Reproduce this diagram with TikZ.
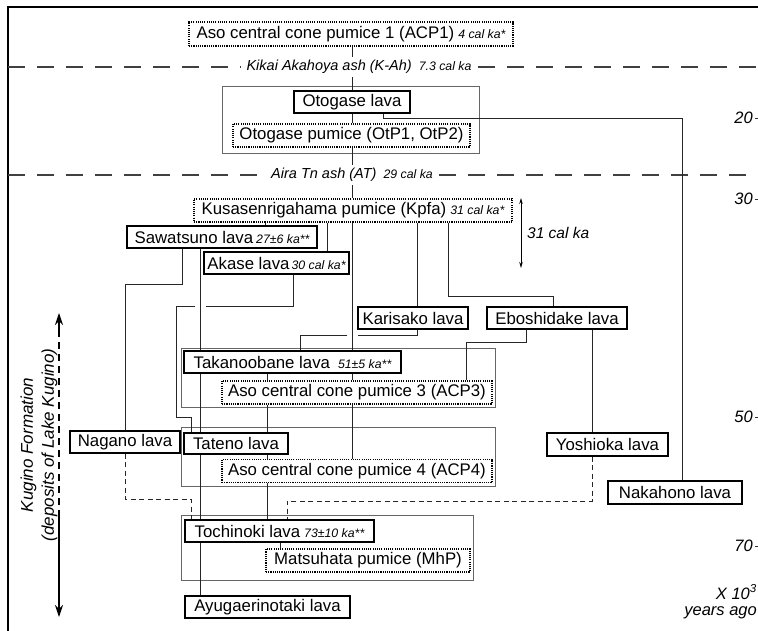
\documentclass[tikz,border=0pt]{standalone}
\usepackage{fontspec}
\setmainfont{Liberation Sans}
\usetikzlibrary{arrows.meta}
\newcommand\mainsz{\fontsize{16.8}{20}\selectfont}
\newcommand\ann[1]{{\fontsize{12.3}{14}\selectfont\itshape #1}}
\tikzset{
  lava/.style={draw=black, line width=1.4pt, fill=white, inner sep=0pt, minimum height=22pt, font=\mainsz},
  pum/.style={draw=black, line width=1.1pt, dash pattern=on 1.1pt off 1.1pt, fill=white, inner sep=0pt, minimum height=23pt, font=\mainsz},
  grp/.style={draw=black!60, line width=0.8pt},
  conn/.style={draw=black!85, line width=0.9pt},
  dconn/.style={conn, dash pattern=on 5pt off 3.5pt},
  ashl/.style={draw=black!75, line width=1.3pt, dash pattern=on 17pt off 12pt},
  ashlab/.style={font=\fontsize{14.5}{17}\selectfont\itshape, inner xsep=6pt, inner ysep=3pt},
  axlab/.style={font=\fontsize{16.5}{20}\selectfont\itshape, inner sep=0pt},
  tick/.style={draw=black!80, line width=0.8pt}
}
\begin{document}
\begin{tikzpicture}[x=1pt,y=-1pt]
\useasboundingbox (0,0) rectangle (758,631);
% frame
\draw[line width=1.5pt] (8,640) -- (8,7) -- (765,7);
% group rectangles
\draw[grp] (222,86) rectangle (479,153);
\draw[grp] (181,348) rectangle (495,407);
\draw[grp] (181,427) rectangle (495,486);
\draw[grp] (181,515) rectangle (473,580);
% column coordinates
\coordinate (xA) at (125,0);
\coordinate (xD) at (200,0);
\coordinate (xE) at (182,0);
\coordinate (xF) at (265,0);
\coordinate (xG) at (267,0);
\coordinate (xH) at (280,0);
\coordinate (xJ) at (293,0);
\coordinate (xL) at (327,0);
\coordinate (xM) at (352,0);
\coordinate (xN) at (383,0);
\coordinate (xO) at (417,0);
\coordinate (xP) at (448,0);
\coordinate (xR) at (526,0);
\coordinate (xT) at (592,0);
\coordinate (fl) at (8,0);
\coordinate (fr) at (765,0);
% nodes
\node[pum, minimum width=324pt, minimum height=24pt] (acp1) at (351,34) {Aso central cone pumice 1 (ACP1)\hspace{4pt}\ann{4 cal ka*}};
\node[ashlab] (kah) at (359,67) {Kikai Akahoya ash (K-Ah)\hspace{7pt}\ann{7.3 cal ka}};
\node[lava, minimum width=116pt] (otl) at (352,102) {Otogase lava};
\node[pum, minimum width=237pt] (otp) at (351.5,135.5) {Otogase pumice (OtP1, OtP2)};
\node[ashlab] (at) at (352,175) {Aira Tn ash (AT)\hspace{7pt}\ann{29 cal ka}};
\node[pum, minimum width=318pt] (kpfa) at (353,210.5) {Kusasenrigahama pumice (Kpfa)\hspace{4pt}\ann{31 cal ka*}};
\node[lava, minimum width=190pt] (saw) at (222,237) {Sawatsuno lava\hspace{3pt}\ann{27±6 ka**}};
\node[lava, minimum width=145pt] (aka) at (276.5,263) {Akase lava\hspace{2pt}\ann{30 cal ka*}};
\node[lava, minimum width=110pt] (kar) at (413,318) {Karisako lava};
\node[lava, minimum width=140pt] (ebo) at (557,318) {Eboshidake lava};
\node[lava, minimum width=217pt] (tak) at (292.5,362) {Takanoobane lava\hspace{8pt}\ann{51±5 ka**}};
\node[pum, minimum width=270pt] (acp3) at (357,392.5) {Aso central cone pumice 3 (ACP3)};
\node[lava, minimum width=110pt] (nag) at (125,442) {Nagano lava};
\node[lava, minimum width=104pt, minimum height=21pt] (tat) at (236,443.5) {Tateno lava};
\node[pum, minimum width=270pt] (acp4) at (357,471) {Aso central cone pumice 4 (ACP4)};
\node[lava, minimum width=121pt, minimum height=23pt] (yos) at (607.5,444.5) {Yoshioka lava};
\node[lava, minimum width=134pt, minimum height=23pt] (nak) at (675,492.5) {Nakahono lava};
\node[lava, minimum width=189pt] (toc) at (279.5,531) {Tochinoki lava\hspace{4pt}\ann{73±10 ka**}};
\node[pum, minimum width=204pt] (mat) at (368,560.5) {Matsuhata pumice (MhP)};
\node[lava, minimum width=165pt] (ayu) at (267.5,607) {Ayugaerinotaki lava};
% kink coordinates
\coordinate (k1) at (682,118);
\coordinate (k2) at (553,296);
\coordinate (k3) at (125,284);
\coordinate (g1) at (206,306);
\coordinate (g2) at (195,306);
\coordinate (k5) at (176,417);
\coordinate (k6) at (191,417);
\coordinate (g3) at (358,335);
\coordinate (g4) at (347,335);
\coordinate (xK) at (300,0);
\coordinate (k7) at (466,342);
\coordinate (k8) at (191,499);
\coordinate (k9) at (287,501);
% ash lines
\draw[ashl] (fl |- kah) -- (kah.west);
\draw[ashl] (kah.east) -- (fr |- kah);
\draw[ashl] (fl |- at) -- (at.west);
\draw[ashl] (at.east) -- (fr |- at);
% connectors
\draw[conn] (xM |- acp1.south) -- (xM |- kah.north);
\draw[conn] (xM |- kah.south) -- (xM |- otl.north);
\draw[conn] (xM |- otl.south) -- (xM |- otp.north);
\draw[conn] (xM |- otp.south) -- (xM |- at.north);
\draw[conn] (xM |- at.south) -- (xM |- kpfa.north);
\draw[conn] (xN |- otl.south) |- (k1) -- (k1 |- nak.north);
\draw[conn] (xF |- kpfa.south) -- (xF |- saw.north);
\draw[conn] (xL |- kpfa.south) -- (xL |- aka.north);
\draw[conn] (xM |- kpfa.south) -- (xM |- tak.north);
\draw[conn] (xO |- kpfa.south) -- (xO |- kar.north);
\draw[conn] (xP |- kpfa.south) |- (k2) -- (k2 |- ebo.north);
\draw[conn] (xE |- saw.south) |- (k3) -- (k3 |- nag.north);
\draw[conn] (xD |- saw.south) -- (xD |- tak.north);
\draw[conn] (xJ |- aka.south) |- (g1);
\draw[conn] (g2) -| (k5) -| (k6 |- tat.north);
\draw[conn] (xO |- kar.south) |- (g3);
\draw[conn] (g4) -| (xK |- tak.north);
\draw[conn] (xR |- ebo.south) |- (k7) -- (k7 |- acp3.north);
\draw[conn] (xT |- ebo.south) -- (xT |- yos.north);
\draw[conn] (xG |- tak.south) -- (xG |- acp3.north);
\draw[conn] (xM |- tak.south) -- (xM |- acp3.north);
\draw[conn] (xG |- acp3.south) -- (xG |- tat.north);
\draw[conn] (xM |- acp3.south) -- (xM |- acp4.north);
\draw[conn] (xG |- tat.south) -- (xG |- acp4.north);
\draw[conn] (xG |- acp4.south) -- (xG |- toc.north);
\draw[conn] (xD |- tak.south) -- (xD |- tat.north);
\draw[conn] (xD |- tat.south) -- (xD |- toc.north);
\draw[conn] (xD |- toc.south) -- (xD |- ayu.north);
\draw[conn] (xH |- toc.south) -- (xH |- mat.north);
\draw[dconn] (xA |- nag.south) |- (k8) -- (k8 |- toc.north);
\draw[dconn] (xT |- yos.south) |- (k9) -- (k9 |- toc.north);
% 31 cal ka double arrow
\coordinate (da1) at (521,198);
\coordinate (da2) at (521,268);
\draw[line width=0.8pt, {Stealth[length=6pt,width=3.5pt]}-{Stealth[length=6pt,width=3.5pt]}] (da1) -- (da2);
\node[font=\fontsize{15.5}{18}\selectfont\itshape, inner sep=0pt, anchor=west] (ck) at (527,233) {31 cal ka};
% right axis labels
\node[axlab, anchor=east] (n20) at (753,118) {20};
\node[axlab, anchor=east] (n30) at (753,199) {30};
\node[axlab, anchor=east] (n50) at (753,417) {50};
\node[axlab, anchor=east] (n70) at (753,546) {70};
\foreach \n in {n20,n30,n50,n70} {\draw[tick] ([xshift=2pt]\n.east) -- ++(8,0);}
\node[axlab, anchor=east] (xten) at (757,592) {X 10\textsuperscript{3}};
\node[axlab, anchor=east] (yago) at (757,613) {years ago};
% left axis
\node[font=\fontsize{17}{21}\selectfont\itshape, rotate=90, align=center] (kug) at (39,445) {Kugino Formation\\(deposits of Lake Kugino)};
\coordinate (la1) at (59,313);
\coordinate (la2) at (59,330);
\coordinate (la3) at (59,515);
\coordinate (la4) at (59,617);
\draw[line width=1.2pt, -{Stealth[length=12pt,width=8pt]}] (la2) -- (la1);
\draw[line width=1.2pt, dash pattern=on 7pt off 5pt] (la2) -- (la3);
\draw[line width=1.2pt, -{Stealth[length=12pt,width=8pt]}] (la3) -- (la4);
\end{tikzpicture}
\end{document}
